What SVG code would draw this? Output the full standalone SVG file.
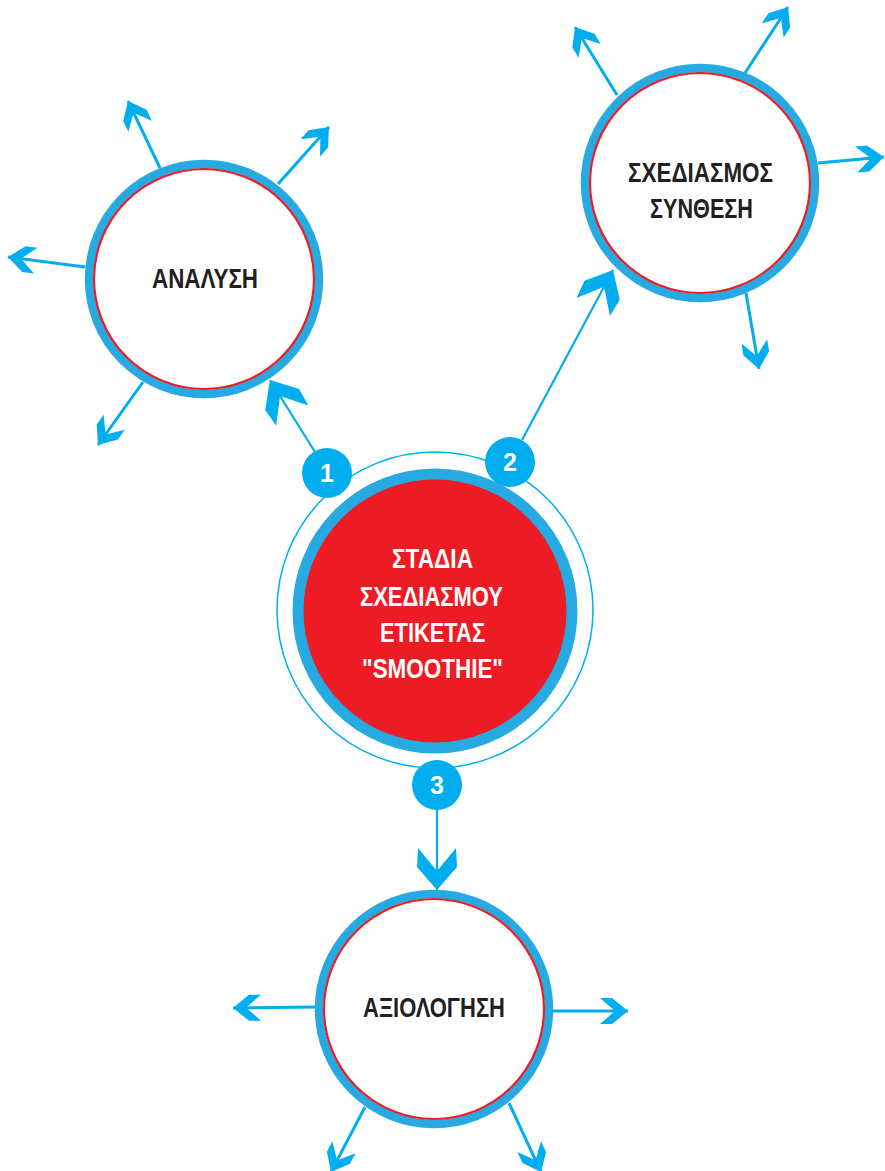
<svg xmlns="http://www.w3.org/2000/svg" width="885" height="1171" viewBox="0 0 885 1171">
<style>
.bg{fill:#ffffff}
.ring{fill:#ffffff;stroke:#27AAE1;stroke-width:8.5}
.redline{fill:none;stroke:#ED1C24;stroke-width:2.2}
.lbl{font-family:"Liberation Sans","Noto Sans",sans-serif;font-weight:bold;font-size:28px;fill:#231F20;text-anchor:middle}
.clbl{font-family:"Liberation Sans","Noto Sans",sans-serif;font-weight:bold;font-size:27px;fill:#ffffff;text-anchor:middle}
.out{stroke:#00AEEF;stroke-width:3;fill:none;marker-end:url(#sm)}
.main{stroke:#00AEEF;stroke-width:2.2;fill:none;marker-end:url(#big)}
.badge{fill:#00AEEF}
.num{font-family:"Liberation Sans","Noto Sans",sans-serif;font-weight:bold;font-size:25px;fill:#ffffff;text-anchor:middle}
</style>
<defs>
<marker id="sm" markerUnits="userSpaceOnUse" viewBox="-30 -15 32 30" markerWidth="32" markerHeight="30" refX="0" refY="0" orient="auto" overflow="visible">
<path d="M0,0 L-16,-13 L-28,-13 L-13,0 L-28,13 L-16,13 Z" fill="#00AEEF"/>
</marker>
<marker id="big" markerUnits="userSpaceOnUse" viewBox="-44 -22 46 44" markerWidth="46" markerHeight="44" refX="0" refY="0" orient="auto" overflow="visible">
<path d="M0,0 L-23,-20 L-42,-19 L-19,0 L-42,19 L-23,20 Z" fill="#00AEEF"/>
</marker>
</defs>
<rect class="bg" x="0" y="0" width="885" height="1171"/>

<g id="connectors">
<line class="out" x1="160" y1="168" x2="128" y2="101"/>
<line class="out" x1="278" y1="184" x2="329" y2="127"/>
<line class="out" x1="85" y1="267" x2="8" y2="257"/>
<line class="out" x1="143" y1="382" x2="98" y2="445"/>
<line class="out" x1="617" y1="95" x2="575" y2="27"/>
<line class="out" x1="745" y1="73" x2="788" y2="7"/>
<line class="out" x1="818" y1="163" x2="884" y2="157"/>
<line class="out" x1="746" y1="293" x2="759" y2="369"/>
<line class="out" x1="315" y1="1007" x2="233" y2="1008"/>
<line class="out" x1="553" y1="1011" x2="628" y2="1011"/>
<line class="out" x1="365" y1="1107" x2="331" y2="1172"/>
<line class="out" x1="509" y1="1103" x2="541" y2="1172"/>
<line class="main" x1="315" y1="452" x2="270" y2="380"/>
<line class="main" x1="522" y1="440" x2="613" y2="270"/>
<line class="main" x1="437" y1="808" x2="437" y2="890"/>
</g>

<g id="node-analysi">
<circle class="ring" cx="204" cy="279" r="115"/>
<circle class="redline" cx="204" cy="279" r="110"/>
<text class="lbl" x="205" y="288" textLength="106" lengthAdjust="spacingAndGlyphs">ΑΝΑΛΥΣΗ</text>
</g>

<g id="node-sxediasmos">
<circle class="ring" cx="700" cy="183" r="115"/>
<circle class="redline" cx="700" cy="183" r="110"/>
<text class="lbl" x="700.5" y="182" textLength="145" lengthAdjust="spacingAndGlyphs">ΣΧΕΔΙΑΣΜΟΣ</text>
<text class="lbl" x="701.5" y="218" textLength="103" lengthAdjust="spacingAndGlyphs">ΣΥΝΘΕΣΗ</text>
</g>

<g id="node-axiologisi">
<circle class="ring" cx="434" cy="1009" r="115"/>
<circle class="redline" cx="434" cy="1009" r="110"/>
<text class="lbl" x="434" y="1017" textLength="142" lengthAdjust="spacingAndGlyphs">ΑΞΙΟΛΟΓΗΣΗ</text>
</g>

<g id="node-center">
<circle cx="435" cy="610" r="158" fill="none" stroke="#00AEEF" stroke-width="1.5"/>
<circle cx="435" cy="611" r="137" fill="#ED1C24" stroke="#27AAE1" stroke-width="11"/>
<text class="clbl" x="432.5" y="568" textLength="81" lengthAdjust="spacingAndGlyphs">ΣΤΑΔΙΑ</text>
<text class="clbl" x="431.5" y="606" textLength="143" lengthAdjust="spacingAndGlyphs">ΣΧΕΔΙΑΣΜΟΥ</text>
<text class="clbl" x="432.5" y="642" textLength="105" lengthAdjust="spacingAndGlyphs">ΕΤΙΚΕΤΑΣ</text>
<text class="clbl" x="432.5" y="678" textLength="141" lengthAdjust="spacingAndGlyphs">"SMOOTHIE"</text>
</g>

<g id="badge-1">
<circle class="badge" cx="327" cy="473" r="25"/>
<text class="num" x="327" y="482">1</text>
</g>
<g id="badge-2">
<circle class="badge" cx="510" cy="462" r="25"/>
<text class="num" x="510" y="471">2</text>
</g>
<g id="badge-3">
<circle class="badge" cx="437" cy="785" r="25"/>
<text class="num" x="437" y="794">3</text>
</g>
</svg>
